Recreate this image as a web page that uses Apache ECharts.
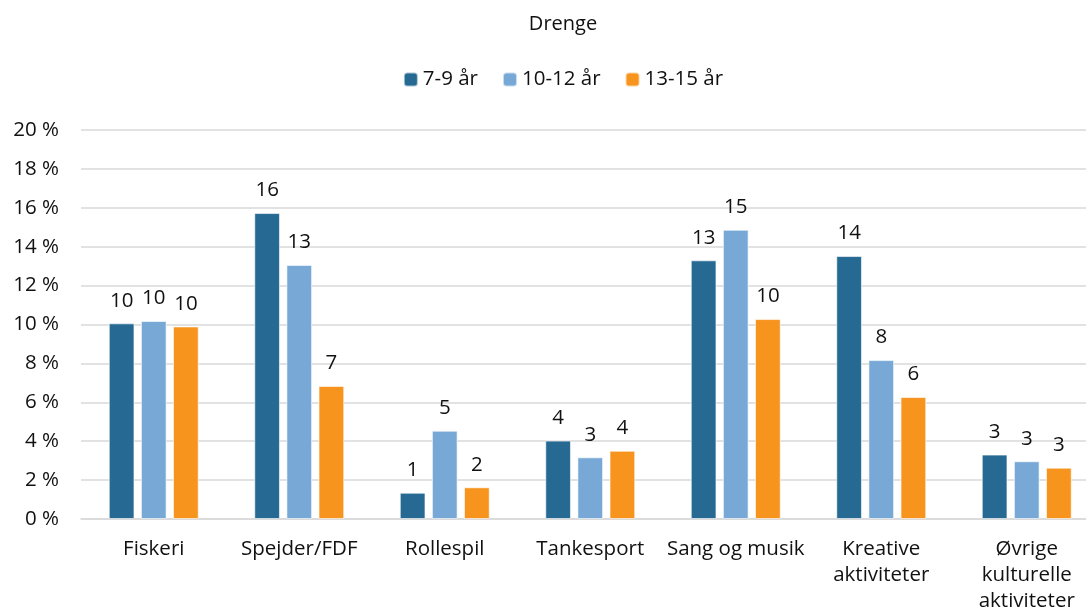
<!DOCTYPE html>
<html><head><meta charset="utf-8">
<script src="https://cdn.jsdelivr.net/npm/echarts@6/dist/echarts.min.js"></script>
<style>html,body{margin:0;padding:0;background:#fff;overflow:hidden;width:1086px;height:616px}#c{width:1126px;height:616px}</style>
</head><body><div id="c"></div>
<script>
const categories = ["Fiskeri","Spejder/FDF","Rollespil","Tankesport","Sang og musik","Kreative\naktiviteter","Øvrige\nkulturelle\naktiviteter"];
const seriesNames = ["7-9 år","10-12 år","13-15 år"];
const s79 = [10.06, 15.73, 1.35, 4.03, 13.3, 13.52, 3.31];
const s1012 = [10.18, 13.06, 4.54, 3.17, 14.87, 8.17, 2.97];
const s1315 = [9.9, 6.84, 1.63, 3.51, 10.28, 6.27, 2.64];
const yTicks = [0,2,4,6,8,10,12,14,16,18,20];
const colors = ["#266a93","#78a9d6","#f7941e"];
const font = "'Open Sans', sans-serif";
const fs = 20.5;
const chart = echarts.init(document.getElementById('c'));
const mk = (name, data, i) => ({
  name, type: 'bar', data, barWidth: 25.7, barGap: '25%',
  itemStyle: {color: colors[i], borderColor: 'rgba(255,255,255,0.6)', borderWidth: 1},
  label: {show: true, position: 'top', distance: 12, color: '#111', fontSize: fs, fontFamily: font,
    formatter: p => Math.round(p.value)}
});
chart.setOption({
  animation: false,
  title: {text: 'Drenge', left: 'center', top: 9, textStyle: {fontSize: 20, fontWeight: 'normal', color: '#111', fontFamily: font}},
  legend: {top: 64, left: 'center', itemWidth: 14, itemHeight: 14, itemGap: 24,
    textStyle: {fontSize: fs, color: '#111', fontFamily: font}, data: seriesNames},
  grid: {left: 81, right: 26.5, top: 130, bottom: 97, containLabel: false},
  xAxis: {type: 'category', data: categories,
    axisLine: {lineStyle: {color: '#d9d9d9', width: 1.5}}, axisTick: {show: false},
    axisLabel: {color: '#111', fontSize: fs, fontFamily: font, margin: 17, lineHeight: 26, interval: 0}},
  yAxis: {type: 'value', min: 0, max: 20, interval: 2,
    axisLine: {show: false}, axisTick: {show: false},
    splitLine: {lineStyle: {color: '#d9d9d9', width: 1.5}},
    axisLabel: {color: '#111', fontSize: fs, fontFamily: font, margin: 22,
      formatter: v => yTicks.includes(v) ? v + ' %' : ''}},
  series: [mk(seriesNames[0], s79, 0), mk(seriesNames[1], s1012, 1), mk(seriesNames[2], s1315, 2)]
});
</script></body></html>
